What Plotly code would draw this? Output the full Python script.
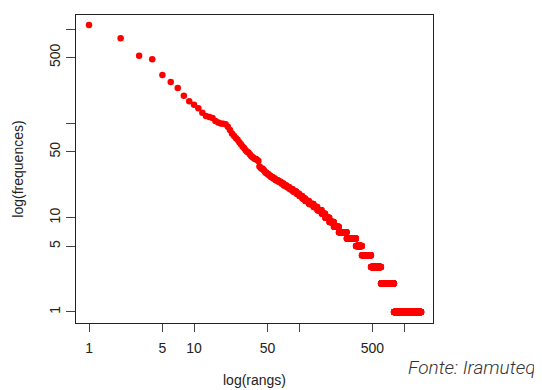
import numpy as np
import plotly.graph_objects as go

# Frequencies of the most frequent forms (ranks 1..41)
top_freqs = [1105, 799, 522, 478, 326, 275, 237, 196, 172, 158,
             145, 130, 120, 117, 114, 106, 102, 100, 99, 98,
             92, 85, 78, 74, 70, 67, 63, 60, 57, 55,
             52, 50, 49, 47, 45, 44, 43, 42, 42, 41, 40]

# Lower frequency levels and the number of forms sharing each level
level_freqs = [35, 34, 33, 32, 31, 30, 29, 28, 27, 26, 25, 24, 23, 22, 21, 20,
               19, 18, 17, 16, 15, 14, 13, 12, 11, 10, 9, 8, 7, 6, 5, 4, 3, 2, 1]
level_counts = [1, 1, 2, 1, 1, 2, 2, 2, 3, 3, 4, 4, 4, 5, 5, 6,
                7, 6, 7, 7, 10, 13, 12, 15, 13, 17, 20, 25, 45, 64, 49, 87, 119, 199, 650]

tick_vals = [1, 5, 10, 50, 100, 500, 1000]
x_tick_text = ["1", "5", "10", "50", "", "500", ""]
y_tick_text = ["1", "5", "10", "50", "", "500", ""]

freqs = np.concatenate([np.array(top_freqs), np.repeat(level_freqs, level_counts)])
ranks = np.arange(1, len(freqs) + 1)

fig = go.Figure()
fig.add_trace(go.Scatter(
    x=ranks, y=freqs, mode="markers",
    marker=dict(color="#ff0000", size=6.5, line=dict(width=0)),
    showlegend=False, hoverinfo="x+y",
))

axis_font = dict(family="Liberation Sans, Arial, sans-serif", size=14, color="#222222")
common = dict(
    type="log", showgrid=False, zeroline=False, automargin=False,
    showline=True, linecolor="#222222", linewidth=1.3, mirror=True,
    ticks="outside", tickwidth=1, tickcolor="#444444",
    tickvals=tick_vals, tickfont=axis_font,
)

fig.update_xaxes(
    **common, ticklen=8, ticklabelstandoff=4, ticktext=x_tick_text, range=[-0.124, 3.276],
    title=dict(text="log(rangs)", font=axis_font, standoff=20),
)
fig.update_yaxes(
    **common, ticklen=9, ticktext=y_tick_text, range=[-0.117, 3.15], tickangle=-90,
    title=dict(text="log(frequences)", font=axis_font, standoff=20),
)

fig.add_annotation(
    text="<i>Fonte: Iramuteq</i>", xref="paper", yref="paper",
    x=1.292, y=-0.146, xanchor="right", yanchor="middle", showarrow=False,
    font=dict(family="Roboto, sans-serif", size=19, color="#333333", weight=300),
)

# the page body adds an 8px offset, so the figure is sized to fit inside the 542x390 window
fig.update_layout(
    width=534, height=382,
    margin=dict(l=68, r=109, t=7, b=67, autoexpand=False),
    paper_bgcolor="white", plot_bgcolor="white",
)

fig.write_html("out.html")
